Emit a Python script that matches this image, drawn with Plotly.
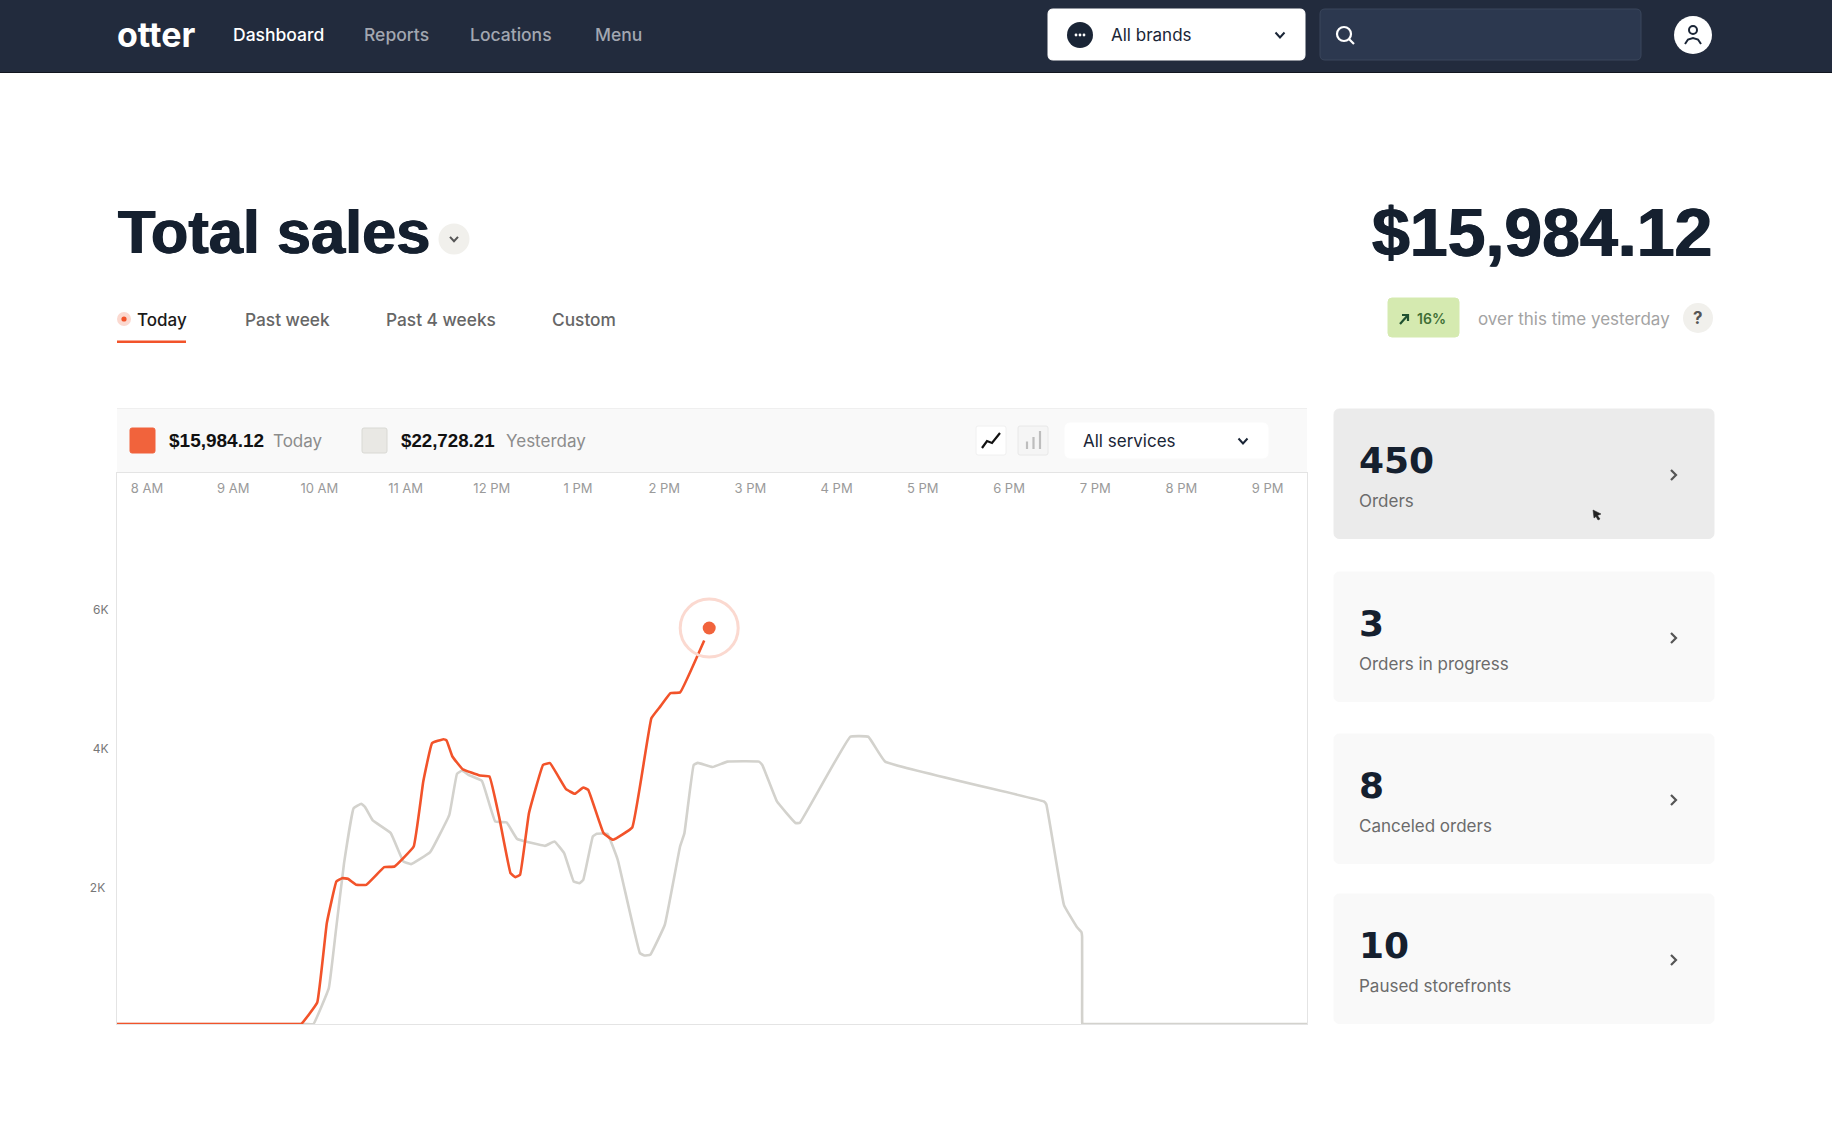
import plotly.graph_objects as go

# Sales curves (hour of day, dollars)
today_hours = [7.65, 7.75, 9.7, 9.789, 9.975, 10.086, 10.197, 10.264, 10.331, 10.428, 10.544, 10.752, 10.872,
               11.094, 11.205, 11.307, 11.44, 11.476, 11.543, 11.662, 11.862, 11.973, 12.084, 12.217,
               12.275, 12.328, 12.431, 12.595, 12.675, 12.861, 12.963, 13.061, 13.119, 13.296, 13.407,
               13.629, 13.851, 13.951, 14.073, 14.185, 14.464]
today_sales = [40, 40, 40, 40, 350, 1492, 2091, 2139, 2130, 2043, 2043, 2297, 2307,
               2595, 3530, 4082, 4139, 4120, 3890, 3707, 3616, 3602, 3026, 2211,
               2153, 2187, 3074, 3770, 3794, 3420, 3353, 3444, 3410, 2787, 2691,
               2868, 4441, 4604, 4801, 4813, 5559]
now_hour = [14.522]
now_sales = [5739]

yesterday_hours = [7.65, 7.75, 9.85, 9.931, 10.109, 10.188, 10.286, 10.397, 10.486, 10.53, 10.619, 10.828, 10.974,
                   11.063, 11.285, 11.507, 11.596, 11.654, 11.729, 11.885, 12.04, 12.173, 12.293, 12.617,
                   12.728, 12.839, 12.95, 13.017, 13.061, 13.172, 13.217, 13.341, 13.461, 13.718, 13.771,
                   13.838, 14.007, 14.184, 14.234, 14.342, 14.39, 14.561, 14.732, 15.098, 15.138, 15.308,
                   15.523, 15.572, 16.158, 16.368, 16.563, 18.404, 18.433, 18.638, 18.785, 18.84, 18.848,
                   18.848, 18.849, 18.852, 18.95, 21.35, 21.457]
yesterday_sales = [40, 40, 40, 40, 556, 1348, 2355, 3146, 3209, 3161, 2969, 2787, 2379,
                   2341, 2513, 3050, 3640, 3688, 3626, 3540, 2954, 2940, 2705, 2604,
                   2667, 2499, 2091, 2067, 2115, 2739, 2777, 2777, 2403, 1060, 1026,
                   1036, 1468, 2595, 2783, 3768, 3798, 3738, 3816, 3816, 3768, 3243,
                   2933, 2933, 4174, 4174, 3816, 3243, 3201, 1751, 1440, 1363, 1300,
                   200, 60, 40, 40, 40, 40]

hour_ticks = list(range(8, 22))
hour_labels = ["8 AM", "9 AM", "10 AM", "11 AM", "12 PM", "1 PM", "2 PM", "3 PM",
               "4 PM", "5 PM", "6 PM", "7 PM", "8 PM", "9 PM"]
sales_ticks = [2000, 4000, 6000]
sales_labels = ["2K\u00a0", "4K", "6K"]

nav_items = ["Reports", "Locations", "Menu"]
nav_x = [364, 470, 595]
tab_items = ["Past week", "Past 4 weeks", "Custom"]
tab_x = [245, 386, 552]
card_counts = ["450", "3", "8", "10"]
card_labels = ["Orders", "Orders in progress", "Canceled orders", "Paused storefronts"]
card_tops = [409, 572, 734, 894]

W, H = 1832, 1128
NAVY = "#222b3d"
INK = "#15202f"
ORANGE = "#f2532a"
GREY_LINE = "#d3d2cd"
BODY = "Inter"
HEAD = "Liberation Sans"

shapes = []
notes = []


def px(x):
    return x / W


def py(y):
    return 1 - y / H


def rect(x0, y0, x1, y1, fill, r=0, line=None):
    # rounded box given in page pixels
    if r:
        path = (
            f"M {px(x0 + r)} {py(y0)} L {px(x1 - r)} {py(y0)} Q {px(x1)} {py(y0)} {px(x1)} {py(y0 + r)} "
            f"L {px(x1)} {py(y1 - r)} Q {px(x1)} {py(y1)} {px(x1 - r)} {py(y1)} "
            f"L {px(x0 + r)} {py(y1)} Q {px(x0)} {py(y1)} {px(x0)} {py(y1 - r)} "
            f"L {px(x0)} {py(y0 + r)} Q {px(x0)} {py(y0)} {px(x0 + r)} {py(y0)} Z"
        )
        shapes.append(dict(type="path", xref="paper", yref="paper", path=path, fillcolor=fill,
                           line=dict(color=line or fill, width=1), layer="below"))
    else:
        shapes.append(dict(type="rect", xref="paper", yref="paper", x0=px(x0), x1=px(x1), y0=py(y0), y1=py(y1),
                           fillcolor=fill, line=dict(color=line or fill, width=1 if line else 0), layer="below"))


def circle(cx, cy, r, fill, line=None, width=1):
    shapes.append(dict(type="circle", xref="paper", yref="paper", x0=px(cx - r), x1=px(cx + r),
                       y0=py(cy - r), y1=py(cy + r), fillcolor=fill,
                       line=dict(color=line or fill, width=width if line else 0), layer="above"))


def stroke(points, color, width=2, fill=None):
    path = "M " + " L ".join(f"{px(x)} {py(y)}" for x, y in points)
    shape = dict(type="path", xref="paper", yref="paper", path=path, line=dict(color=color, width=width), layer="above")
    if fill:
        shape["path"] = path + " Z"
        shape["fillcolor"] = fill
    shapes.append(shape)


def label(x, y, text, size, color, weight=400, family=BODY, anchor="left", heavy=False):
    if anchor == "left":
        x -= 1
    font = dict(family=family, size=size, color=color, weight=weight)
    if heavy:
        # the original face is heavier than Liberation's bold
        font["shadow"] = f"0.7px 0 0 {color}, -0.7px 0 0 {color}"
    notes.append(dict(xref="paper", yref="paper", x=px(x), y=py(y), text=text, showarrow=False,
                      xanchor=anchor, yanchor="middle", borderpad=0, font=font))


def chevron_down(x, y, color, s=4.5):
    stroke([(x - s, y - s * 0.55), (x, y + s * 0.55), (x + s, y - s * 0.55)], color, 2)


# Top bar
rect(0, 0, W, 72, NAVY)
rect(0, 72, W, 73, "#11161f")
label(117, 34.5, "otter", 34, "white", 700)
label(233, 34.5, "Dashboard", 17.5, "white", 500)
for name, x in zip(nav_items, nav_x):
    label(x, 34.5, name, 17.5, "#a2a7b1", 500)

rect(1048, 9, 1305, 60, "white", 5)
circle(1080, 35, 13, "#1a2536")
for dx in (-4, 0, 4):
    circle(1080 + dx, 35, 1.4, "white")
label(1111, 35, "All brands", 17, "#1a2536")
chevron_down(1280, 35, "#1a2536")

rect(1320, 9, 1641, 60, "#2c384f", 5, "#3a465c")
circle(1344, 34, 7, "rgba(0,0,0,0)", "white", 2.2)
stroke([(1349, 39), (1354, 44)], "white", 2.2)

circle(1693, 35, 19, "white")
circle(1693, 30, 4, "white", "#1a2536", 2)
stroke([(1685, 44), (1688, 39.5), (1693, 38), (1698, 39.5), (1701, 44)], "#1a2536", 2)

# Heading row
label(118, 232, "Total sales", 61.3, INK, 700, HEAD, heavy=True)
circle(454, 239, 15.5, "#f1f0ec")
chevron_down(454, 239, "#555555", 4)
label(1713, 232, "$15,984.12", 68, INK, 700, HEAD, "right", heavy=True)

# Range tabs
circle(124, 319, 7, "#fbd9d0")
circle(124, 319, 2.6, ORANGE)
label(137, 320, "Today", 17, "#1a1a1a", 500)
for name, x in zip(tab_items, tab_x):
    label(x, 320, name, 17.3, "#666666", 500)
rect(117, 340.5, 186, 343, ORANGE)

rect(1388, 298, 1459, 337, "#d5eab0", 4)
stroke([(1400, 324), (1408, 315)], "#1f5130", 2.2)
stroke([(1402, 315), (1408, 315), (1408, 321)], "#1f5130", 2.2)
label(1417, 318, "16%", 14, "#3f6e35", 600)
label(1478, 319, "over this time yesterday", 17, "#a3a3a3")
circle(1698, 318, 15, "#f1f0ec")
label(1698, 318, "?", 17, "#555555", 700, anchor="center")

# Chart header band
rect(117, 408, 1307, 472, "#f9f9f9")
rect(117, 408, 1307, 409, "#efefef")
rect(130, 428, 155, 453, "#f1633c", 2)
label(169, 440.5, "$15,984.12", 19, "#111111", 700, HEAD)
label(273, 441, "Today", 17, "#8c8c8c")
rect(362, 428, 387, 453, "#e9e8e4", 2, "#d9d9d4")
label(401, 440.5, "$22,728.21", 18.7, "#111111", 700, HEAD)
label(506, 441, "Yesterday", 17, "#8c8c8c")

rect(976, 426, 1006, 455, "white", 2, "#f0f0f0")
stroke([(982, 448), (987, 441), (992, 443), (1000, 433)], "#111111", 2.2)
rect(1018, 426, 1048, 455, "#f5f5f5", 2, "#e8e8e8")
for x, top in zip((1027, 1033.5, 1040), (441.5, 437, 431)):
    stroke([(x, 449), (x, top)], "#bdbdbd", 2.2)
rect(1065, 423, 1268, 458, "white", 5)
label(1083, 441, "All services", 17, "#1a2536")
chevron_down(1243, 441, "#1a2536")

# Side cards
for i, (count, name, top) in enumerate(zip(card_counts, card_labels, card_tops)):
    rect(1334, top, 1714, top + 129.5, "#ebebeb" if i == 0 else "#f9f9f9", 6)
    label(1359, top + 51, count, 36, INK, 700, "DejaVu Sans")
    label(1359, top + 92, name, 17, "#6b6b6b")
    stroke([(1671, top + 61), (1676, top + 66), (1671, top + 71)], "#555555", 2.2)

# Mouse pointer
stroke([(1593, 510), (1601, 514), (1597.5, 515.5), (1600, 519), (1598, 520), (1596, 516.5), (1594, 518)],
       "#222222", 0.5, "#222222")

fig = go.Figure()
fig.add_trace(go.Scatter(x=yesterday_hours, y=yesterday_sales, mode="lines", name="Yesterday", cliponaxis=False,
                         line=dict(color=GREY_LINE, width=2.6, shape="spline", smoothing=0.25)))
fig.add_trace(go.Scatter(x=today_hours, y=today_sales, mode="lines", name="Today", cliponaxis=False,
                         line=dict(color=ORANGE, width=2.6, shape="spline", smoothing=0.25)))
fig.add_trace(go.Scatter(x=now_hour, y=now_sales, mode="markers", name="Now", cliponaxis=False,
                         marker=dict(size=58, color="rgba(0,0,0,0)", line=dict(color="#fbd9d0", width=3))))
fig.add_trace(go.Scatter(x=now_hour, y=now_sales, mode="markers", name="Now", cliponaxis=False,
                         marker=dict(size=13, color="#f1633c")))

fig.update_layout(
    width=W,
    height=H,
    margin=dict(l=0, r=0, t=0, b=0),
    showlegend=False,
    paper_bgcolor="white",
    plot_bgcolor="white",
    shapes=shapes,
    annotations=notes,
    font=dict(family=BODY),
    xaxis=dict(
        domain=[px(117), px(1307)],
        range=[7.652, 21.457],
        side="top",
        tickvals=hour_ticks,
        ticktext=hour_labels,
        ticklabelposition="inside",
        ticks="inside",
        ticklen=11,
        tickcolor="rgba(0,0,0,0)",
        tickfont=dict(size=13, color="#9a9a9a"),
        showgrid=False,
        zeroline=False,
        showline=True,
        mirror=True,
        linecolor="#e4e4e4",
        linewidth=1,
    ),
    yaxis=dict(
        domain=[py(1024), py(473)],
        range=[40, 7970],
        tickvals=sales_ticks,
        ticktext=sales_labels,
        ticks="outside",
        ticklen=5,
        tickcolor="rgba(0,0,0,0)",
        tickfont=dict(size=12, color="#777777"),
        showgrid=False,
        zeroline=False,
        showline=True,
        mirror=True,
        linecolor="#e4e4e4",
        linewidth=1,
    ),
)

fig.write_html("out.html", config=dict(displayModeBar=False), post_script="document.body.style.margin='0';")
